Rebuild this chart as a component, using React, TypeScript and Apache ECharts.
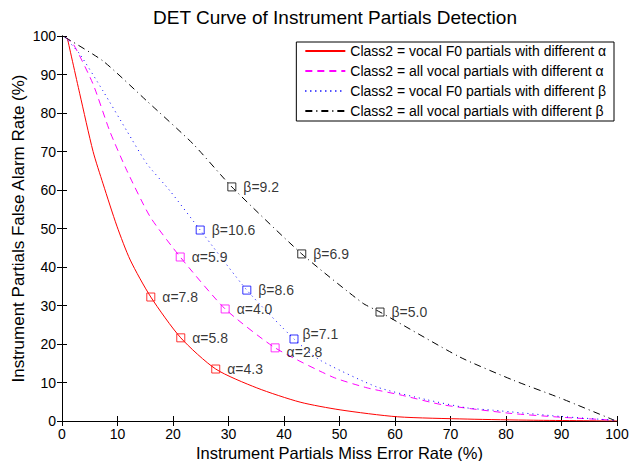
import React, { useEffect, useRef } from "react";
import * as echarts from "echarts";

const seriesNames = [
  "Class2 = vocal F0 partials with different α",
  "Class2 = all vocal partials with different α",
  "Class2 = vocal F0 partials with different β",
  "Class2 = all vocal partials with different β",
];

const redX = [1.0, 3.2, 5.6, 7.4, 9.9, 12.3, 16.0, 21.4, 27.7, 35.1, 42.9, 50.1, 60.4, 73, 85, 100];
const redY = [99.2, 85, 70, 61.6, 50.6, 41.8, 32.2, 21.6, 13.5, 8.6, 4.9, 2.9, 1.1, 0.5, 0.2, 0];

const magX = [0.5, 2, 5.6, 8.6, 11.7, 15.9, 21.3, 29.4, 38.4, 48.8, 55, 60.9, 68.6, 80.7, 89.7, 99.5];
const magY = [99.7, 98, 87.5, 75.3, 65, 53, 42.6, 29.1, 19.0, 11.4, 8.6, 6.8, 4.2, 2, 1, 0.2];

const blueX = [0.5, 3.2, 7.4, 11.7, 15.3, 19.5, 24.9, 33.3, 41.8, 46.5, 56.8, 65.8, 73, 77.7, 89.7, 99.5];
const blueY = [99.7, 95.3, 85.7, 75.3, 66.8, 59.7, 49.6, 34.0, 21.3, 15.8, 8.8, 5.5, 3.4, 2.8, 1.2, 0.2];

const blackX = [0.5, 7.4, 15.3, 23.6, 30.6, 43.2, 54.2, 57.3, 71.7, 81.3, 89.7, 99.5];
const blackY = [99.7, 93.5, 83.1, 72, 60.8, 43.4, 30.6, 28.3, 16.6, 10.6, 6, 0.2];

// marker points with labels
const redMarkX = [16.0, 21.4, 27.7];
const redMarkY = [32.2, 21.6, 13.5];
const redMarkLabel = ["α=7.8", "α=5.8", "α=4.3"];

const magMarkX = [21.3, 29.4, 38.4];
const magMarkY = [42.6, 29.1, 19.0];
const magMarkLabel = ["α=5.9", "α=4.0", "α=2.8"];

const blueMarkX = [24.9, 33.3, 41.8];
const blueMarkY = [49.6, 34.0, 21.3];
const blueMarkLabel = ["β=10.6", "β=8.6", "β=7.1"];

const blackMarkX = [30.6, 43.2, 57.3];
const blackMarkY = [60.8, 43.4, 28.3];
const blackMarkLabel = ["β=9.2", "β=6.9", "β=5.0"];

const FONT = "'Liberation Sans', Arial, Helvetica, sans-serif";

function zip(xs: number[], ys: number[]) {
  return xs.map((x, i) => [x, ys[i]]);
}

function markSeries(
  xs: number[],
  ys: number[],
  labels: string[],
  color: string,
  offsets?: (number[] | null)[]
) {
  return {
    type: "scatter",
    xAxisIndex: 0,
    yAxisIndex: 0,
    symbol: "rect",
    symbolSize: 8,
    silent: true,
    z: 5,
    itemStyle: { color: "rgba(0,0,0,0)", borderColor: color, borderWidth: 1 },
    label: {
      show: true,
      position: "right",
      distance: 7,
      color: "#000",
      fontSize: 14,
      fontFamily: FONT,
      formatter: (p: any) => labels[p.dataIndex],
    },
    data: zip(xs, ys).map((v, i) => {
      const off = offsets ? offsets[i] : null;
      return off ? { value: v, label: { offset: off } } : { value: v };
    }),
  };
}

export default function App() {
  const ref = useRef<HTMLDivElement>(null);
  useEffect(() => {
    if (!ref.current) return;
    const chart = echarts.init(ref.current, undefined, { renderer: "svg" });
    const axisCommon = {
      type: "value",
      min: 0,
      max: 100,
      interval: 10,
      axisLine: { show: true, lineStyle: { color: "#000", width: 1 } },
      axisTick: { show: true, inside: true, length: 5, lineStyle: { color: "#000" } },
      splitLine: { show: false },
    };
    chart.setOption({
      animation: false,
      backgroundColor: "#fff",
      title: {
        text: "DET Curve of Instrument Partials Detection",
        left: 335,
        top: 8,
        padding: 0,
        textAlign: "center",
        textStyle: { fontSize: 19, fontWeight: "normal", color: "#000", fontFamily: FONT },
      },
      legend: {
        orient: "vertical",
        right: 21,
        top: 42,
        data: seriesNames,
        backgroundColor: "#fff",
        borderColor: "#000",
        borderWidth: 1,
        borderRadius: 0,
        padding: [2, 8, 3, 8],
        itemGap: 6,
        itemWidth: 40,
        itemHeight: 14,
        itemStyle: { color: "rgba(0,0,0,0)", borderColor: "rgba(0,0,0,0)", borderWidth: 0, opacity: 0 },
        textStyle: { fontSize: 14, color: "#000", fontFamily: FONT },
      },
      grid: { left: 62, right: 18, top: 36, bottom: 40, containLabel: false, outerBoundsMode: "none" },
      xAxis: [
        {
          ...axisCommon,
          position: "bottom",
          name: "Instrument Partials Miss Error Rate (%)",
          nameLocation: "middle",
          nameGap: 23,
          nameMoveOverlap: false,
          nameTextStyle: { fontSize: 16.5, color: "#000", fontFamily: FONT },
          axisLabel: { color: "#000", fontSize: 14, fontFamily: FONT, margin: 6 },
        },
        { ...axisCommon, position: "top", axisLabel: { show: false } },
      ],
      yAxis: [
        {
          ...axisCommon,
          position: "left",
          name: "Instrument Partials False Alarm Rate (%)",
          nameLocation: "middle",
          nameGap: 35,
          nameMoveOverlap: false,
          nameTextStyle: { fontSize: 17, color: "#000", fontFamily: FONT },
          axisLabel: { color: "#000", fontSize: 14, fontFamily: FONT, margin: 6 },
        },
        { ...axisCommon, position: "right", axisLabel: { show: false } },
      ],
      series: [
        {
          name: seriesNames[0],
          type: "line",
          smooth: 0.25,
          symbol: "none",
          color: "#ff0000",
          lineStyle: { color: "#ff0000", width: 1, type: "solid" },
          data: zip(redX, redY),
        },
        {
          name: seriesNames[1],
          type: "line",
          smooth: 0.2,
          symbol: "none",
          color: "#ff00ff",
          lineStyle: { color: "#ff00ff", width: 1, type: [7, 5] },
          data: zip(magX, magY),
        },
        {
          name: seriesNames[2],
          type: "line",
          smooth: 0.2,
          symbol: "none",
          color: "#0000ff",
          lineStyle: { color: "#0000ff", width: 1, type: [1, 4] },
          data: zip(blueX, blueY),
        },
        {
          name: seriesNames[3],
          type: "line",
          smooth: 0.2,
          symbol: "none",
          color: "#000000",
          lineStyle: { color: "#000000", width: 1, type: [7, 4, 1, 4] },
          data: zip(blackX, blackY),
        },
        markSeries(redMarkX, redMarkY, redMarkLabel, "#ff0000"),
        markSeries(magMarkX, magMarkY, magMarkLabel, "#ff00ff", [null, null, [0, 4]]),
        markSeries(blueMarkX, blueMarkY, blueMarkLabel, "#0000ff", [null, null, [-3, -5]]),
        markSeries(blackMarkX, blackMarkY, blackMarkLabel, "#000000"),
      ],
    });
    return () => chart.dispose();
  }, []);
  return <div ref={ref} style={{ width: 635, height: 461, position: "absolute", left: 0, top: 0 }} />;
}
